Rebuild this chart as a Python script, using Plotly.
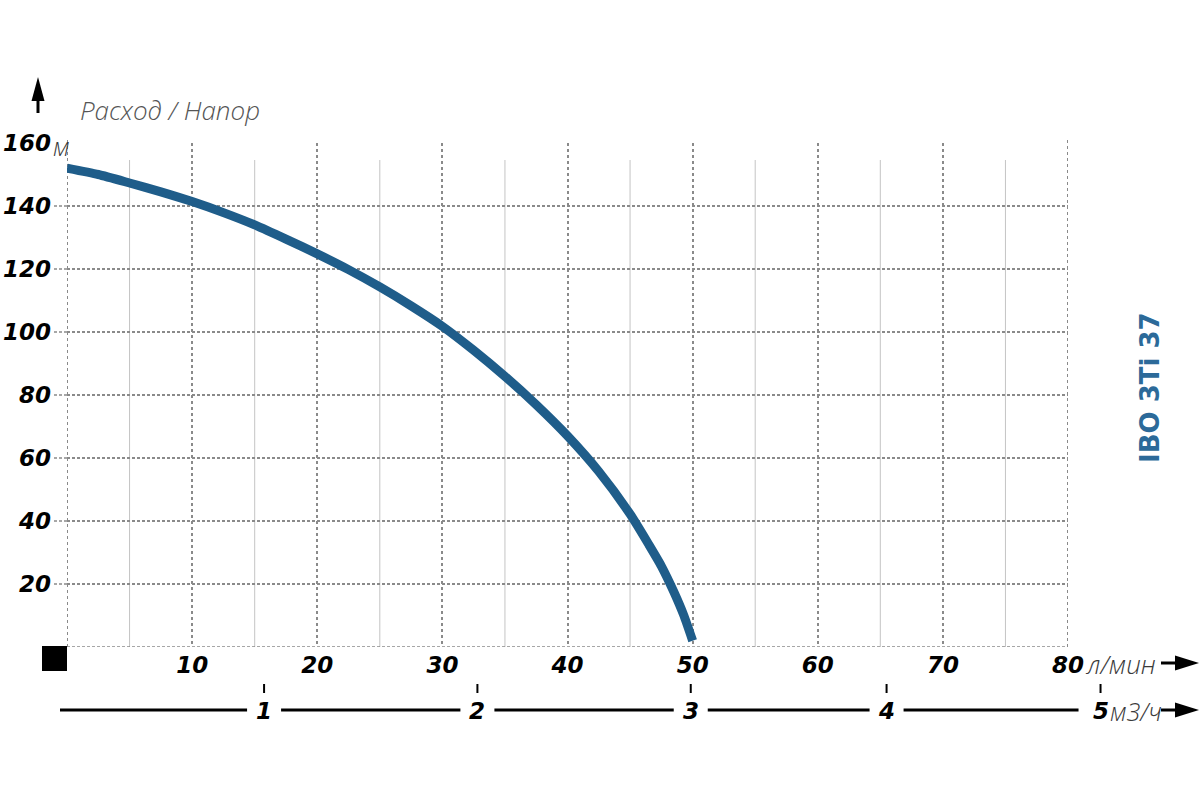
import plotly.graph_objects as go

# ---- data ----
flow_lpm = [0, 2.5, 5, 7.5, 10, 12.5, 15, 17.5, 20, 22.5, 25, 27.5, 30,
            32.5, 35, 37.5, 40, 42.5, 45, 46.5, 47.5, 48.5, 49.3, 50]
head_m = [152, 150, 147.3, 144.5, 141.4, 137.9, 134, 129.5, 124.8, 119.8, 114.3, 108.3, 101.8,
          94.2, 85.9, 76.9, 67, 55.7, 42.2, 32.5, 25.7, 17.5, 10, 2]

x_tick_vals = [0, 10, 20, 30, 40, 50, 60, 70, 80]
x_tick_text = ["", "10", "20", "30", "40", "50", "60", "70", "80"]
x_minor_vals = [5, 15, 25, 35, 45, 55, 65, 75]
y_tick_vals = [0, 20, 40, 60, 80, 100, 120, 140, 160]
y_tick_text = ["", "20", "40", "60", "80", "100", "120", "140", "160"]

# second (m3/h) scale: tick labels and their position on the l/min scale
m3h_labels = ["1", "2", "3", "4", "5"]
m3h_pos_lpm = [15.75, 32.8, 49.85, 65.5, 82.6]

title_text = "IBO 3Ti 37"
y_title = "Расход / Напор"
x_unit = "л/мин"
x2_unit = "м3/ч"
y_unit = "м"

# ---- geometry ----
W, H = 1200, 800
L, R, T, B = 67, 132, 143, 153
PW, PH = W - L - R, H - T - B
XMAX, YMAX = 80, 160


def px(xp):
    return (xp - L) / PW


def py(yp):
    return (H - B - yp) / PH


def lpm_to_px(v):
    return L + v / XMAX * PW


CURVE = "#1f5d8a"
MAJOR = "#8a8a8a"
num_font = dict(family="DejaVu Sans", size=23, color="black", weight="bold", style="italic")
unit_font = dict(family="Open Sans", size=25, color="#3a3a3a", weight=300, style="italic")

fig = go.Figure()
fig.add_trace(go.Scatter(
    x=flow_lpm, y=head_m, mode="lines",
    line=dict(color=CURVE, width=9, shape="spline", smoothing=0.6),
    hoverinfo="x+y", showlegend=False,
))

shapes = []
annotations = []

# minor (light, solid) vertical grid lines, which stop short of the top
for v in x_minor_vals:
    shapes.append(dict(type="line", xref="x", yref="paper", layer="below",
                       x0=v, x1=v, y0=0, y1=py(160),
                       line=dict(color="#c4c4c4", width=1)))
# edge grid lines (plotly drops grid lines lying on the plot edges)
for v in (x_tick_vals[0], x_tick_vals[-1]):
    shapes.append(dict(type="line", xref="x", yref="paper", layer="below",
                       x0=v, x1=v, y0=0, y1=py(140),
                       line=dict(color=MAJOR, width=2, dash="dot")))
shapes.append(dict(type="line", xref="paper", yref="y", layer="below",
                   x0=0, x1=1, y0=y_tick_vals[0], y1=y_tick_vals[0],
                   line=dict(color=MAJOR, width=1.5, dash="3px,2px")))
# tick stubs: grid lines poking left of the value axis
for v in y_tick_vals[1:-1]:
    shapes.append(dict(type="line", xref="paper", yref="y", layer="below",
                       x0=px(54), x1=0, y0=v, y1=v,
                       line=dict(color=MAJOR, width=1.5, dash="3px,2px")))

# black square at origin
shapes.append(dict(type="rect", xref="paper", yref="paper",
                   x0=px(42), x1=px(67), y0=py(671), y1=py(646),
                   fillcolor="black", line=dict(width=0)))

# up arrow
shapes.append(dict(type="path", xref="paper", yref="paper",
                   path=f"M {px(38)} {py(77)} L {px(44.5)} {py(101)} L {px(31.5)} {py(101)} Z",
                   fillcolor="black", line=dict(width=0)))
shapes.append(dict(type="line", xref="paper", yref="paper",
                   x0=px(38), x1=px(38), y0=py(100), y1=py(113),
                   line=dict(color="black", width=3)))


def right_arrow(yc):
    shapes.append(dict(type="line", xref="paper", yref="paper",
                       x0=px(1161), x1=px(1180), y0=py(yc), y1=py(yc),
                       line=dict(color="black", width=3)))
    shapes.append(dict(type="path", xref="paper", yref="paper",
                       path=f"M {px(1175)} {py(yc - 7.5)} L {px(1199)} {py(yc)} L {px(1175)} {py(yc + 7.5)} Z",
                       fillcolor="black", line=dict(width=0)))


right_arrow(663)
right_arrow(710)

# m3/h axis line with gaps around labels
AX2_Y = 710
m3h_px = [lpm_to_px(v) for v in m3h_pos_lpm]
seg_start = 60
for i, p in enumerate(m3h_px):
    gap_r = 22 if i == len(m3h_px) - 1 else 17
    shapes.append(dict(type="line", xref="paper", yref="paper",
                       x0=px(seg_start), x1=px(p - gap_r), y0=py(AX2_Y), y1=py(AX2_Y),
                       line=dict(color="black", width=3)))
    seg_start = p + 17
    shapes.append(dict(type="line", xref="paper", yref="paper",
                       x0=px(p), x1=px(p), y0=py(684), y1=py(693),
                       line=dict(color="black", width=2)))
    annotations.append(dict(xref="paper", yref="paper", x=px(p), y=py(AX2_Y + 1),
                            text=m3h_labels[i], showarrow=False, font=num_font,
                            xanchor="center", yanchor="middle"))

annotations.append(dict(xref="paper", yref="paper", x=px(m3h_px[-1] + 7), y=py(AX2_Y + 1),
                        text=x2_unit, showarrow=False, font=unit_font,
                        xanchor="left", yanchor="middle"))
annotations.append(dict(xref="paper", yref="paper", x=px(1083), y=py(664),
                        text=x_unit, showarrow=False, font=dict(unit_font, size=26),
                        xanchor="left", yanchor="middle"))
annotations.append(dict(xref="paper", yref="paper", x=px(51), y=py(146),
                        text=y_unit, showarrow=False, font=dict(unit_font, size=25),
                        xanchor="left", yanchor="middle"))
annotations.append(dict(xref="paper", yref="paper", x=px(78), y=py(110),
                        text=y_title, showarrow=False, font=dict(unit_font, size=26, color="#555555"),
                        xanchor="left", yanchor="middle"))
annotations.append(dict(xref="paper", yref="paper", x=px(1150), y=py(388),
                        text=f"<b>{title_text}</b>", showarrow=False, textangle=-90,
                        font=dict(family="DejaVu Sans", size=26, color="#2c6a99"),
                        xanchor="center", yanchor="middle"))

fig.update_layout(
    width=W, height=H,
    margin=dict(l=L, r=R, t=T, b=B, pad=0, autoexpand=False),
    paper_bgcolor="white", plot_bgcolor="white",
    showlegend=False,
    shapes=shapes, annotations=annotations,
    xaxis=dict(range=[0, XMAX], tickmode="array", tickvals=x_tick_vals, ticktext=x_tick_text,
               showgrid=True, gridcolor=MAJOR, gridwidth=2, griddash="dot",
               zeroline=False, showline=False, ticks="", tickfont=num_font,
               ticklabelstandoff=2, automargin=False, fixedrange=True),
    yaxis=dict(range=[0, YMAX], tickmode="array", tickvals=y_tick_vals, ticktext=y_tick_text,
               showgrid=True, gridcolor=MAJOR, gridwidth=1.5, griddash="3px,2px",
               zeroline=False, showline=False, ticks="", tickfont=num_font,
               ticklabelstandoff=15, automargin=False, fixedrange=True),
)

fig.write_html("out.html", config={"displayModeBar": False},
               post_script="document.body.style.margin='0';")
